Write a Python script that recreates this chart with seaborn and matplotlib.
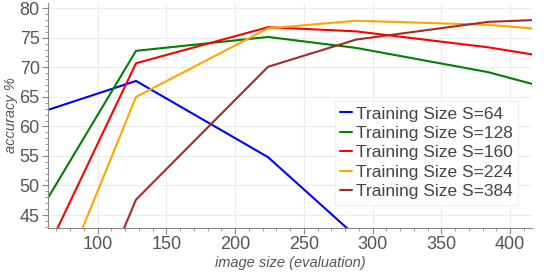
import matplotlib
matplotlib.use("Agg")
import matplotlib.pyplot as plt
from matplotlib.ticker import MultipleLocator
import seaborn as sns
import pandas as pd

image_sizes = [64, 128, 224, 288, 384, 416]
s64 = [62.8, 67.7, 54.8, 41.4, 30.0, 26.0]
s128 = [47.9, 72.8, 75.15, 73.3, 69.2, 67.2]
s160 = [39.4, 70.7, 76.8, 76.1, 73.4, 72.2]
s224 = [28.4, 65.0, 76.6, 77.9, 77.2, 76.6]
s384 = [12.0, 47.6, 70.1, 74.7, 77.7, 78.0]

labels = ["Training Size S=64", "Training Size S=128", "Training Size S=160",
          "Training Size S=224", "Training Size S=384"]
colors = ["#0000FF", "#008000", "#FF0000", "#FFA500", "#A52A2A"]

rows = []
for lab, vals in zip(labels, [s64, s128, s160, s224, s384]):
    for x, v in zip(image_sizes, vals):
        rows.append({"image size (evaluation)": x, "accuracy %": v, "series": lab})
df = pd.DataFrame(rows)

sns.set_style("whitegrid")
plt.rcParams['font.family'] = ['Liberation Sans', 'DejaVu Sans']

fig = plt.figure(figsize=(5.48, 2.74), dpi=100)
ax = fig.add_axes([48/548, 46/274, (532-48)/548, (228-3)/274])

sns.lineplot(data=df, x="image size (evaluation)", y="accuracy %", hue="series",
             palette=dict(zip(labels, colors)), linewidth=1.5, ax=ax, legend=True)

ax.set_xlim(64, 416)
ax.set_ylim(42.8, 80.9)
ax.xaxis.set_major_locator(MultipleLocator(50))
ax.xaxis.set_minor_locator(MultipleLocator(10))
ax.yaxis.set_major_locator(MultipleLocator(5))
ax.yaxis.set_minor_locator(MultipleLocator(1))
ax.grid(True, which="major", color="#ebebeb", linewidth=0.8)
ax.grid(False, which="minor")

for side in ["top", "right"]:
    ax.spines[side].set_visible(False)
for side in ["left", "bottom"]:
    ax.spines[side].set_color("#888888")
    ax.spines[side].set_linewidth(0.8)

ax.tick_params(axis="both", which="major", length=4, width=0.8, color="#888888",
               labelsize=13, labelcolor="#555555", pad=2, direction="out")
ax.tick_params(axis="both", which="minor", length=2, width=0.6, color="#888888",
               direction="out")
ax.tick_params(axis="both", which="both", bottom=True, left=True)

ax.set_xlabel("image size (evaluation)", fontsize=10.5, style="italic", color="#555555", labelpad=2)
ax.set_ylabel("accuracy %", fontsize=10.5, style="italic", color="#555555", labelpad=1)

leg = ax.legend(loc="lower right", bbox_to_anchor=(0.99, 0.065), fontsize=12.5,
                frameon=True, fancybox=False, framealpha=1.0, edgecolor="#f0f0f0",
                handlelength=0.7, handletextpad=0.25, labelspacing=0.25,
                borderpad=0.3, title=None)
for t in leg.get_texts():
    t.set_color("#444444")
for h in leg.get_lines():
    h.set_linewidth(1.5)

fig.savefig("out.png", dpi=100)
